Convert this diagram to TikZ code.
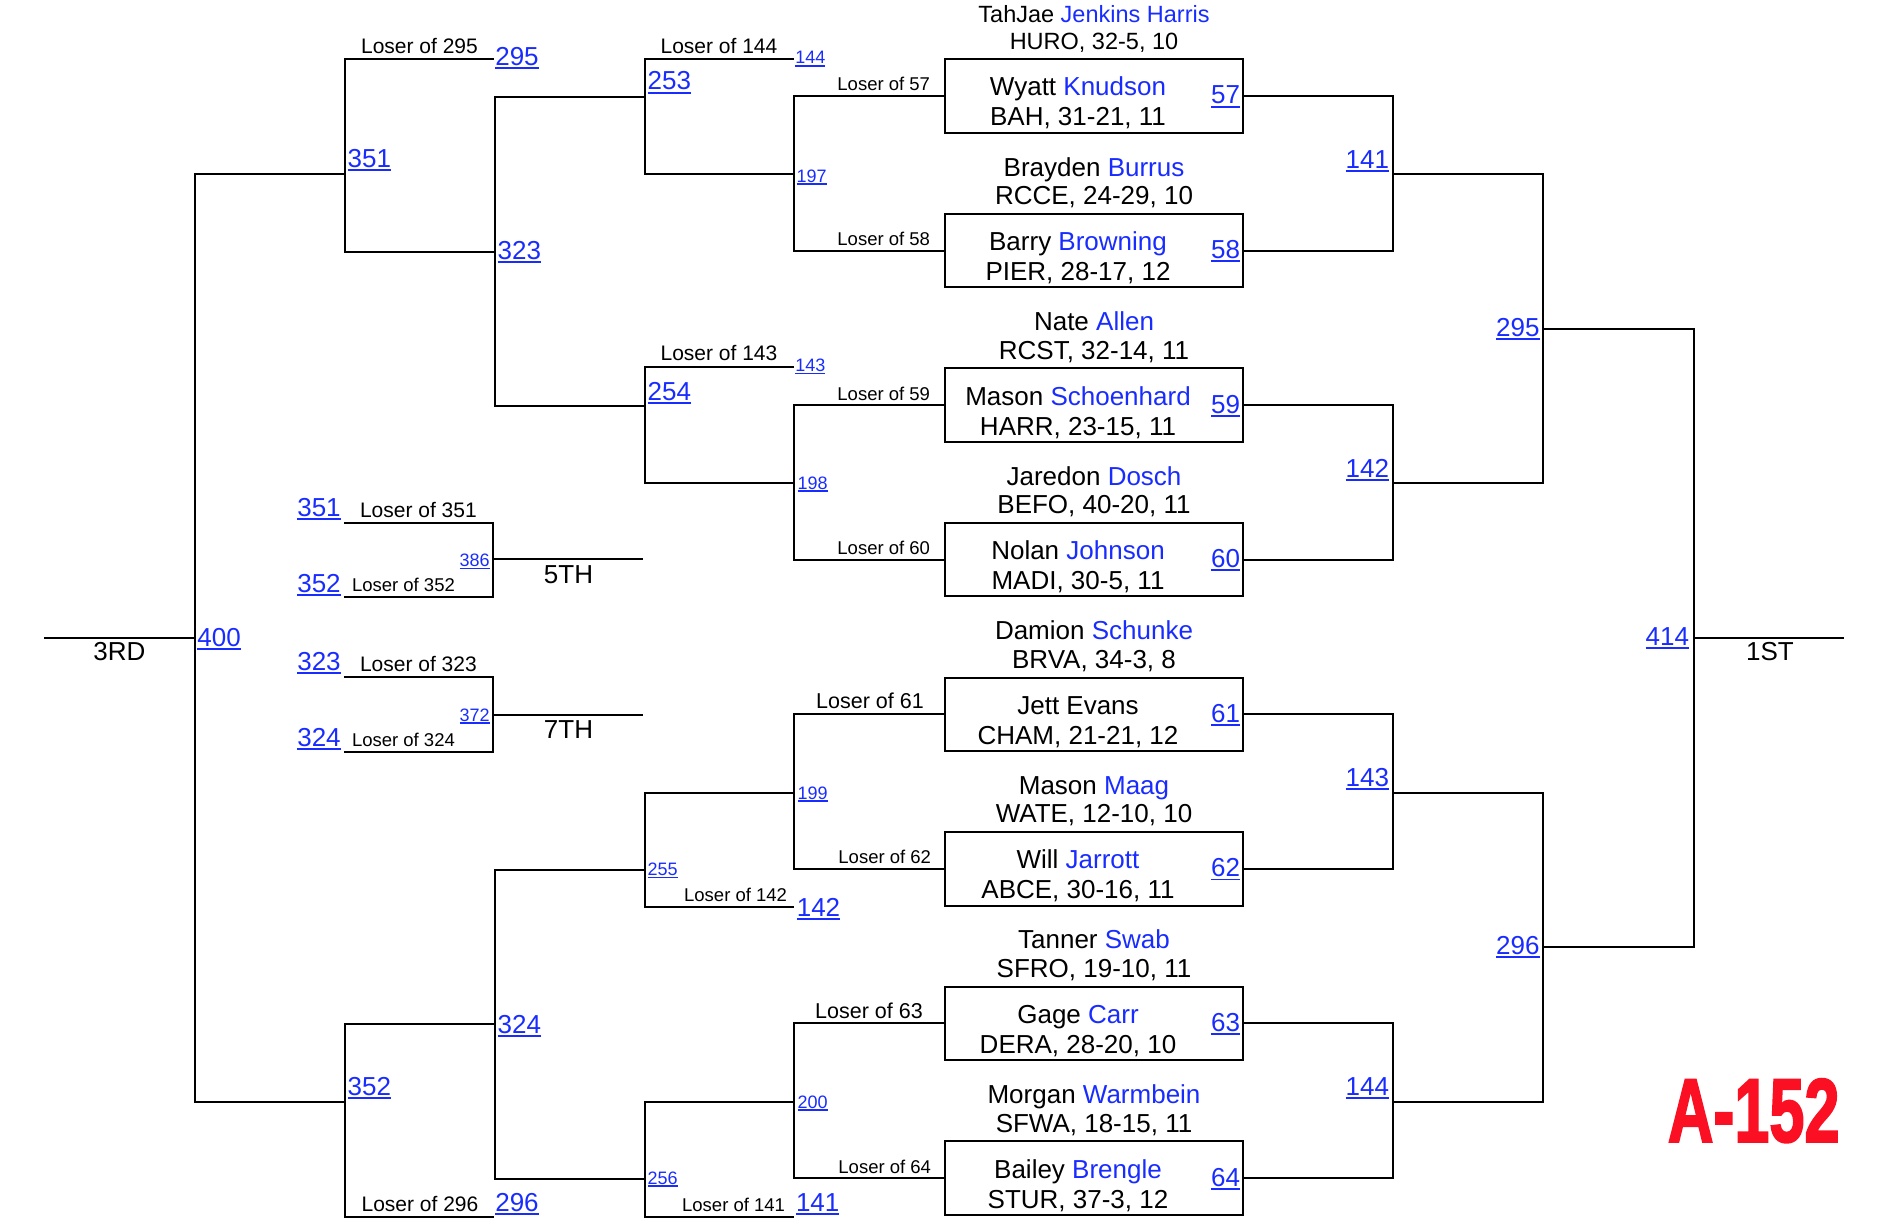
\documentclass[tikz,border=0pt]{standalone}
\usepackage{fontspec}
\setmainfont{Liberation Sans}
\newfontfamily\tagfont[FakeBold=2.5]{Liberation Sans Bold}
\definecolor{lnkblue}{RGB}{24,44,255}
\definecolor{tagred}{RGB}{250,16,34}
\newcommand\nm[1]{\textcolor{lnkblue}{#1}}
\newcommand\lk[1]{\setbox0=\hbox{#1}\rlap{\rule[-0.14em]{\wd0}{0.075em}}\box0}

\begin{document}
\begin{tikzpicture}[x=1pt, y=-1pt, line width=2pt,
    box/.style={draw, line width=2pt, minimum width=298.6pt, minimum height=73.5pt, inner sep=0pt, outer sep=0pt},
    entry/.style={font=\fontsize{26}{30}\selectfont, inner sep=0pt, anchor=base},
    seednum/.style={text=lnkblue, font=\fontsize{26}{30}\selectfont, inner sep=0pt},
    seedsm/.style={text=lnkblue, font=\fontsize{18}{20}\selectfont, inner sep=0pt},
    loser/.style={font=\fontsize{21}{24}\selectfont, inner sep=0pt, anchor=base},
    losersm/.style={font=\fontsize{18.5}{21}\selectfont, inner sep=0pt},
    finish/.style={font=\fontsize{26}{30}\selectfont, inner sep=0pt, anchor=base}]
    \useasboundingbox (0,0) rectangle (1900,1228);

    % 1. wrestler boxes
    \foreach \i/\n/\fa/\fb/\tn/\tl/\bn/\bl in {
      0/57/23.5/27.7/{TahJae \nm{Jenkins Harris}}/{HURO, 32-5, 10}/{Wyatt \nm{Knudson}}/{BAH, 31-21, 11},
      1/58/26/28.5/{Brayden \nm{Burrus}}/{RCCE, 24-29, 10}/{Barry \nm{Browning}}/{PIER, 28-17, 12},
      2/59/26/28.5/{Nate \nm{Allen}}/{RCST, 32-14, 11}/{Mason \nm{Schoenhard}}/{HARR, 23-15, 11},
      3/60/26/28.5/{Jaredon \nm{Dosch}}/{BEFO, 40-20, 11}/{Nolan \nm{Johnson}}/{MADI, 30-5, 11},
      4/61/26/28.5/{Damion \nm{Schunke}}/{BRVA, 34-3, 8}/{Jett Evans}/{CHAM, 21-21, 12},
      5/62/26/28.5/{Mason \nm{Maag}}/{WATE, 12-10, 10}/{Will \nm{Jarrott}}/{ABCE, 30-16, 11},
      6/63/26/28.5/{Tanner \nm{Swab}}/{SFRO, 19-10, 11}/{Gage \nm{Carr}}/{DERA, 28-20, 10},
      7/64/26/28.5/{Morgan \nm{Warmbein}}/{SFWA, 18-15, 11}/{Bailey \nm{Brengle}}/{STUR, 37-3, 12}}
    {
      \pgfmathsetmacro\yc{97+154.57*\i}
      \node[box] (b\n) at (1094,{\yc-1}) {};
      \node[entry] (p\n) at (1078,{\yc-1}) {\bn};
      \node[entry] (q\n) at (1078,{\yc+29}) {\bl};
      \node[entry, font=\fontsize{\fa}{\fb}\selectfont] (a\n) at (1094,{\yc-47-\fb}) {\tn};
      \node[entry, font=\fontsize{\fa}{\fb}\selectfont] (t\n) at (1094,{\yc-47}) {\tl};
      \node[seednum, anchor=base east] (s\n) at (1241,{\yc+7}) {\lk{\n}};
    }

    % 2. championship side
    \coordinate (w141) at (1393,174.3);
    \coordinate (w142) at (1393,483.4);
    \coordinate (w143) at (1393,792.6);
    \coordinate (w144) at (1393,1101.7);
    \coordinate (w295) at (1543,328.9);
    \coordinate (w296) at (1543,947.1);
    \coordinate (w414) at (1693.5,638);
    \coordinate (e1) at (1844,638);
    \draw (b57.east) -| (w141) |- (b58.east);
    \draw (b59.east) -| (w142) |- (b60.east);
    \draw (b61.east) -| (w143) |- (b62.east);
    \draw (b63.east) -| (w144) |- (b64.east);
    \draw (w141) -| (w295) |- (w142);
    \draw (w143) -| (w296) |- (w144);
    \draw (w295) -| (w414) |- (w296);
    \draw (w414) -- (e1);
    \node[seednum, anchor=base east] (r141) at (1390,168) {\lk{141}};
    \node[seednum, anchor=base east] (r142) at (1390,477) {\lk{142}};
    \node[seednum, anchor=base east] (r143) at (1390,786) {\lk{143}};
    \node[seednum, anchor=base east] (r144) at (1390,1095) {\lk{144}};
    \node[seednum, anchor=base east] (r295) at (1540.6,336) {\lk{295}};
    \node[seednum, anchor=base east] (r296) at (1540.6,954) {\lk{296}};
    \node[seednum, anchor=base east] (r414) at (1690,645) {\lk{414}};
    \node[finish] (f1) at (1770,660.7) {1ST};

    % 3. consolation side
    \coordinate (t144) at (794,59);
    \coordinate (t143) at (794,367);
    \coordinate (t142) at (794,906.7);
    \coordinate (t141) at (794,1217);
    \coordinate (t295) at (494,59);
    \coordinate (t296) at (494,1217);
    \coordinate (c197) at (794,174.3);
    \coordinate (c198) at (794,483.4);
    \coordinate (c199) at (794,792.6);
    \coordinate (c200) at (794,1101.7);
    \coordinate (c253) at (645,97);
    \coordinate (c254) at (645,406.1);
    \coordinate (c255) at (645,869.9);
    \coordinate (c256) at (645,1179);
    \coordinate (c323) at (495,251.6);
    \coordinate (c324) at (495,1024.4);
    \coordinate (c351) at (345,174.3);
    \coordinate (c352) at (345,1101.7);
    \coordinate (c400) at (195,638);
    \coordinate (e3) at (44,638);
    \draw (b57.west) -| (c197) |- (b58.west);
    \draw (b59.west) -| (c198) |- (b60.west);
    \draw (b61.west) -| (c199) |- (b62.west);
    \draw (b63.west) -| (c200) |- (b64.west);
    \draw (t144) -| (c253) |- (c197);
    \draw (t143) -| (c254) |- (c198);
    \draw (c199) -| (c255) |- (t142);
    \draw (c200) -| (c256) |- (t141);
    \draw (c253) -| (c323) |- (c254);
    \draw (c255) -| (c324) |- (c256);
    \draw (t295) -| (c351) |- (c323);
    \draw (c324) -| (c352) |- (t296);
    \draw (c351) -| (c400) |- (c352);
    \draw (c400) -- (e3);
    \node[finish] (f3) at (119.5,660.7) {3RD};

    % 4. consolation labels
    \node[seednum, anchor=base west] (k295) at (494.3,65.7) {\lk{295}};
    \node[seednum, anchor=base west] (k351) at (346.7,167.7) {\lk{351}};
    \node[seednum, anchor=base west] (k323) at (496.7,259.3) {\lk{323}};
    \node[seednum, anchor=base west] (k253) at (646.7,90) {\lk{253}};
    \node[seednum, anchor=base west] (k254) at (646.7,400) {\lk{254}};
    \node[seednum, anchor=base west] (k400) at (196.4,646.7) {\lk{400}};
    \node[seednum, anchor=base west] (k324) at (496.7,1033.3) {\lk{324}};
    \node[seednum, anchor=base west] (k352) at (346.7,1095.7) {\lk{352}};
    \node[seednum, anchor=base west] (k296) at (494.3,1211.7) {\lk{296}};
    \node[seednum, anchor=base west] (k142) at (795.8,916.5) {\lk{142}};
    \node[seednum, anchor=base west] (k141) at (795,1211.7) {\lk{141}};
    \node[seedsm, anchor=base west] (k144) at (794.3,64) {\lk{144}};
    \node[seedsm, anchor=base west] (k143) at (794.3,371.7) {\lk{143}};
    \node[seedsm, anchor=base west] (k197) at (795.5,182) {\lk{197}};
    \node[seedsm, anchor=base west] (k198) at (796.7,489.3) {\lk{198}};
    \node[seedsm, anchor=base west] (k199) at (796.7,799) {\lk{199}};
    \node[seedsm, anchor=base west] (k200) at (796.7,1108.3) {\lk{200}};
    \node[seedsm, anchor=base west] (k255) at (646.7,875.5) {\lk{255}};
    \node[seedsm, anchor=base west] (k256) at (646.7,1184) {\lk{256}};

    % 5. loser texts
    \node[loser] (l295) at (419.5,53.3) {Loser of 295};
    \node[loser] (l144) at (719,53.3) {Loser of 144};
    \node[loser] (l143) at (719,360.7) {Loser of 143};
    \node[loser] (l296) at (420,1211.7) {Loser of 296};
    \node[loser, font=\fontsize{21.5}{24}\selectfont] (l61) at (870,708.3) {Loser of 61};
    \node[loser, font=\fontsize{21.5}{24}\selectfont] (l63) at (869,1018) {Loser of 63};
    \node[losersm, anchor=base east] (l57) at (931,91) {Loser of 57};
    \node[losersm, anchor=base east] (l58) at (931,245.6) {Loser of 58};
    \node[losersm, anchor=base east] (l59) at (931,400.1) {Loser of 59};
    \node[losersm, anchor=base east] (l60) at (931,554.7) {Loser of 60};
    \node[losersm, anchor=base east] (l62) at (932,863.9) {Loser of 62};
    \node[losersm, anchor=base east] (l64) at (932,1173) {Loser of 64};
    \node[losersm, anchor=base east] (l142) at (788,901.7) {Loser of 142};
    \node[losersm, anchor=base east] (l141) at (786,1211.7) {Loser of 141};

    % 6. 5th and 7th place
    \coordinate (s351) at (344,522.7);
    \coordinate (s352) at (344,596.7);
    \coordinate (c386) at (492.7,558.7);
    \coordinate (e5) at (643.3,558.7);
    \coordinate (s323) at (344,676.7);
    \coordinate (s324) at (344,751.7);
    \coordinate (c372) at (492.7,715);
    \coordinate (e7) at (643.3,715);
    \draw (s351) -| (c386) |- (s352);
    \draw (c386) -- (e5);
    \draw (s323) -| (c372) |- (s324);
    \draw (c372) -- (e7);
    \node[loser] (l351) at (418.4,517.3) {Loser of 351};
    \node[loser] (l323) at (418.4,671) {Loser of 323};
    \node[losersm, anchor=base west] (l352) at (351,591.7) {Loser of 352};
    \node[losersm, anchor=base west] (l324) at (351,746.7) {Loser of 324};
    \node[seednum, anchor=base east] (m351) at (341.7,516) {\lk{351}};
    \node[seednum, anchor=base east] (m352) at (341.7,592.7) {\lk{352}};
    \node[seednum, anchor=base east] (m323) at (341.7,670) {\lk{323}};
    \node[seednum, anchor=base east] (m324) at (341.7,746.7) {\lk{324}};
    \node[seedsm, anchor=base east] (k386) at (490.7,566.5) {\lk{386}};
    \node[seedsm, anchor=base east] (k372) at (490.7,721) {\lk{372}};
    \node[finish] (f5) at (568.5,583.3) {5TH};
    \node[finish] (f7) at (568.5,738.3) {7TH};

    % 7. weight class tag
    \node[anchor=base, inner sep=0pt, text=tagred, font=\fontsize{90}{90}\tagfont] (tag) at (1753.7,1141.7) {\scalebox{0.7}[1]{A-152}};
\end{tikzpicture}
\end{document}
